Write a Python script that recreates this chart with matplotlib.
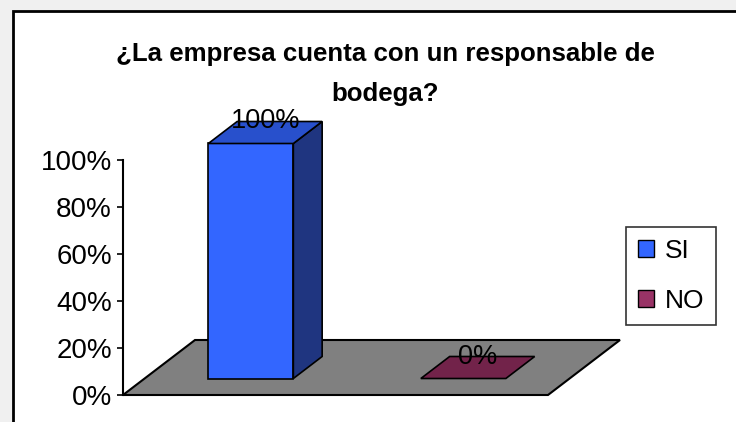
import matplotlib
matplotlib.use("Agg")
import matplotlib.pyplot as plt
from matplotlib.patches import Polygon, Rectangle, Patch

# Survey data
categories = ["SI", "NO"]
values = [100, 0]            # percent of respondents
value_labels = ["100%", "0%"]
y_ticks = [0, 20, 40, 60, 80, 100]
y_tick_labels = ["0%", "20%", "40%", "60%", "80%", "100%"]
title_lines = ["¿La empresa cuenta con un responsable de", "bodega?"]

# Face colours of each series (front, top, side)
front_colors = ["#3366FF", "#993366"]
top_colors = ["#2850CC", "#72234A"]
side_colors = ["#1F3580", "#4D1A33"]
floor_color = "#808080"

W, H = 736, 422
fig = plt.figure(figsize=(W / 100, H / 100), dpi=100)
fig.patch.set_facecolor("#f0f0f0")

def fx(px):
    return px / W

def fy(py):
    return 1 - py / H

# white chart area with a black border
frame = Rectangle((fx(13), fy(440)), fx(760), fy(11) - fy(440),
                  transform=fig.transFigure, facecolor="white",
                  edgecolor="black", linewidth=2, zorder=-10)
fig.add_artist(frame)

# plot axes: x in category units, y in percent
ax_left, ax_right, ax_bottom, ax_top = 123, 548, 395, 160
ax = fig.add_axes([fx(ax_left), fy(ax_bottom), fx(ax_right - ax_left),
                   fy(ax_top) - fy(ax_bottom)])
ax.set_xlim(0, len(categories))
ax.set_ylim(0, 100)
ax.patch.set_alpha(0)

# oblique depth vector, expressed in data units
px_per_x = (ax_right - ax_left) / len(categories)
px_per_y = (ax_bottom - ax_top) / 100
ddx = 72 / px_per_x
ddy = 55 / px_per_y

# floor
n = len(categories)
floor = Polygon([(0, 0), (n, 0), (n + ddx, ddy), (ddx, ddy)], closed=True,
                facecolor=floor_color, edgecolor="black", linewidth=1.5,
                clip_on=False, zorder=1)
ax.add_patch(floor)

bar_w = 0.4
t0, t1 = 0.3, 0.7  # front and back depth fractions of each bar
for i, v in enumerate(values):
    x0 = i + (1 - bar_w) / 2 + t0 * ddx
    x1 = x0 + bar_w
    yb = t0 * ddy
    yt = v + t0 * ddy
    dx = (t1 - t0) * ddx
    dy = (t1 - t0) * ddy
    kw = dict(closed=True, edgecolor="black", linewidth=1.2,
              clip_on=False, zorder=3)
    if v > 0:
        ax.add_patch(Polygon([(x0, yb), (x1, yb), (x1, yt), (x0, yt)],
                             facecolor=front_colors[i], **kw))
        ax.add_patch(Polygon([(x1, yb), (x1 + dx, yb + dy), (x1 + dx, yt + dy),
                              (x1, yt)], facecolor=side_colors[i], **kw))
    ax.add_patch(Polygon([(x0, yt), (x1, yt), (x1 + dx, yt + dy),
                          (x0 + dx, yt + dy)], facecolor=top_colors[i], **kw))
    # value label on the top face
    ax.text(i + 0.5 + 0.5 * ddx, v + t1 * ddy, value_labels[i],
            ha="center", va="center", fontsize=19.5,
            family="Liberation Sans", color="black", zorder=5, clip_on=False)

# axis styling
for s in ["top", "right", "bottom"]:
    ax.spines[s].set_visible(False)
ax.spines["left"].set_linewidth(1.5)
ax.set_xticks([])
ax.set_yticks(y_ticks)
ax.set_yticklabels(y_tick_labels, family="Liberation Sans", fontsize=20)
ax.tick_params(axis="y", direction="out", length=4, width=1.2, pad=4)

# title (two lines)
title_font = dict(family="Liberation Sans", weight="bold", fontsize=18.6)
fig.text(fx(385), fy(61), title_lines[0], ha="center", va="baseline", **title_font)
fig.text(fx(385), fy(101), title_lines[1], ha="center", va="baseline", **title_font)

# legend
handles = [Patch(facecolor=c, edgecolor="black", linewidth=1) for c in front_colors]
leg = fig.legend(handles, categories, loc="center left",
                 bbox_to_anchor=(fx(626), fy(276)),
                 bbox_transform=fig.transFigure,
                 prop=dict(family="Liberation Sans", size=19),
                 frameon=True, fancybox=False, edgecolor="black",
                 borderpad=0.45, labelspacing=1.0, handlelength=0.62,
                 handleheight=0.62, handletextpad=0.4, borderaxespad=0)
leg.get_frame().set_linewidth(1.2)

fig.savefig("out.png", dpi=100, facecolor=fig.get_facecolor())
